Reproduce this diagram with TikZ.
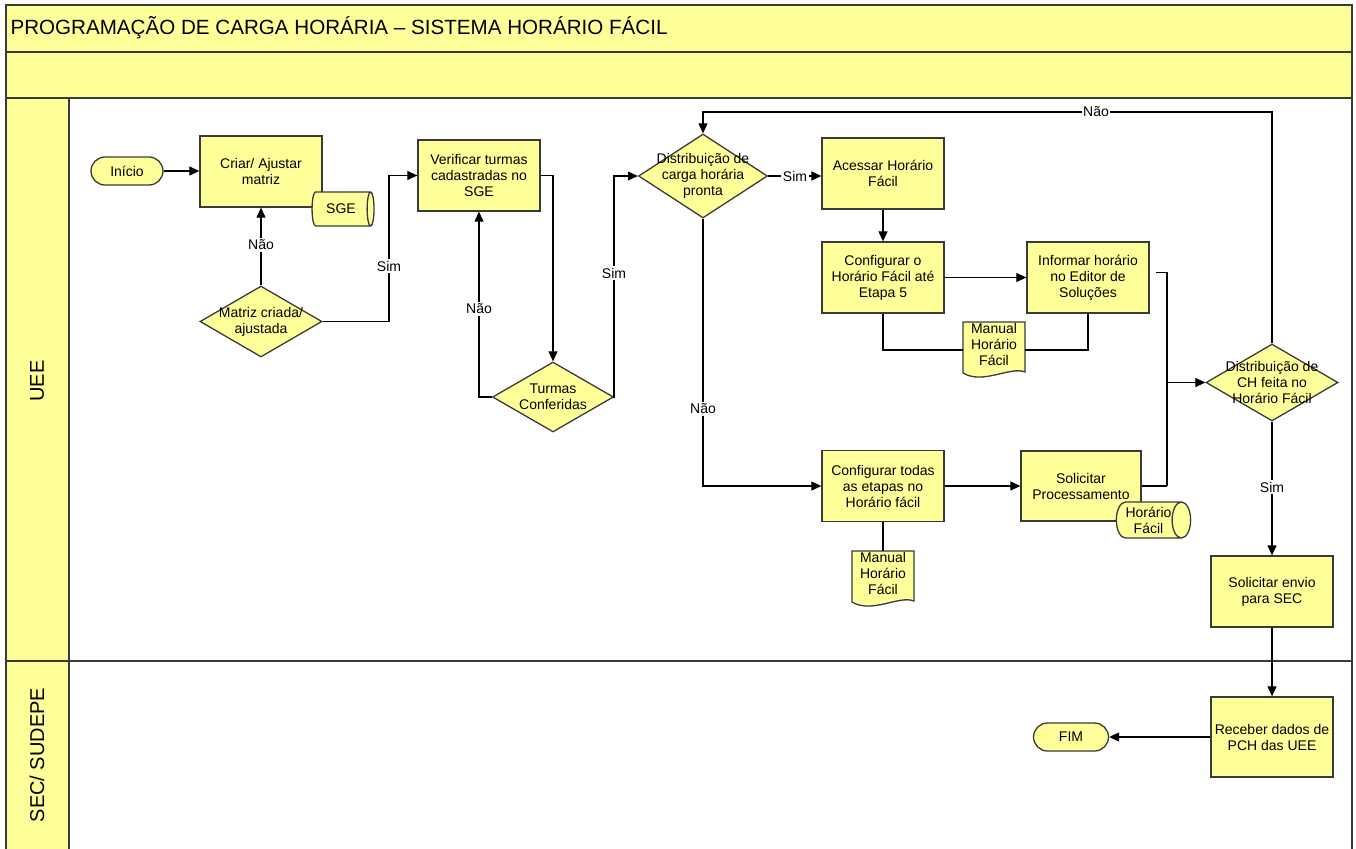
\documentclass[tikz,border=0pt]{standalone}
\usepackage{fontspec}
\setmainfont{Liberation Sans}
\usepackage{xcolor}
\usetikzlibrary{shapes.geometric,arrows.meta}

\definecolor{boxfill}{HTML}{FFFF99}
\definecolor{edgegray}{HTML}{3A3A3A}

\tikzset{
 body/.style={font=\fontsize{14}{16}\selectfont},
 proc/.style={body, draw=edgegray, line width=1.3pt, fill=boxfill, minimum width=122pt, minimum height=71pt, inner sep=2pt, align=center},
 dec/.style={diamond, draw=edgegray, line width=1.3pt, fill=boxfill, inner sep=0pt},
 term/.style={body, draw=edgegray, line width=1.3pt, fill=boxfill, rounded corners=14pt, minimum height=28pt},
 dbase/.style={body, cylinder, draw=edgegray, line width=1.3pt, fill=boxfill, aspect=0.7, inner sep=0pt, align=center},
 docshape/.style={draw=edgegray, line width=1.3pt, fill=boxfill},
 docu/.style={body, align=center, inner sep=0pt, minimum width=62pt, minimum height=44pt},
 txt/.style={body, align=center, inner sep=0pt},
 lbl/.style={body, fill=white, inner sep=1.5pt},
 con/.style={line width=1.1pt},
 arr/.style={con, -{Triangle[length=10pt,width=9pt]}},
 lane/.style={draw=edgegray, line width=1.5pt},
}

\begin{document}
\begin{tikzpicture}[x=1pt,y=-1pt]
\useasboundingbox (0,0) rectangle (1356,848);

% lanes
\filldraw[lane, fill=boxfill] (6,5) rectangle (1352,52);
\filldraw[lane, fill=boxfill] (6,52) rectangle (1352,98);
\filldraw[lane, fill=boxfill] (6,98) rectangle (69,661);
\draw[lane] (69,98) rectangle (1352,661);
\filldraw[lane, fill=boxfill] (6,661) -- (6,852) -- (69,852) -- (69,661) -- cycle;
\draw[lane] (69,661) -- (1352,661) -- (1352,852);

\node[anchor=west, font=\fontsize{20.6}{24}\selectfont] (titulo) at (7,28) {PROGRAMAÇÃO DE CARGA HORÁRIA – SISTEMA HORÁRIO FÁCIL};
\node[rotate=90, font=\fontsize{20}{24}\selectfont] (uee) at (37,381) {UEE};
\node[rotate=90, font=\fontsize{20}{24}\selectfont] (sec) at (37,755) {SEC/ SUDEPE};

% documentos
\filldraw[docshape] (963,322) -- (1025,322) -- (1025,372) .. controls (1010,366) and (983,385) .. (963,373) -- cycle;
\filldraw[docshape] (852,551) -- (914,551) -- (914,601) .. controls (899,595) and (872,614) .. (852,602) -- cycle;

% nodes
\node[term, minimum width=72pt] (inicio) at (127,171) {Início};
\node[proc] (criar) at (261,171.5) {Criar/ Ajustar\\matriz};
\node[dbase, minimum height=62pt, minimum width=34pt] (sge) at (341,209) {SGE};
\node[dec, minimum width=122pt, minimum height=71pt] (matriz) at (261,321.5) {};
\node[txt] (matriztxt) at (matriz) {Matriz criada/\\ajustada};

\node[proc] (verif) at (479,175.5) {Verificar turmas\\cadastradas no\\SGE};
\node[dec, minimum width=121pt, minimum height=70pt] (turmas) at (553,397) {};
\node[txt] (turmastxt) at (turmas) {Turmas\\Conferidas};

\node[dec, minimum width=129pt, minimum height=84pt] (dist) at (703,176) {};
\node[txt] (disttxt) at (dist) {Distribuição de\\carga horária\\pronta};

\node[proc] (acessar) at (883,173.5) {Acessar Horário\\Fácil};
\node[proc] (confo) at (883,277.5) {Configurar o\\Horário Fácil até\\Etapa 5};
\node[proc] (informar) at (1088,277.5) {Informar horário\\no Editor de\\Soluções};
\node[docu] (man1) at (994,344) {Manual\\Horário\\Fácil};

\node[proc] (conftodas) at (883,486) {Configurar todas\\as etapas no\\Horário fácil};
\node[docu] (man2) at (883,573) {Manual\\Horário\\Fácil};
\node[proc, minimum width=120pt, minimum height=70pt] (solproc) at (1081,486) {Solicitar\\Processamento};
\node[dbase, minimum height=69pt, minimum width=36pt] (hfacil) at (1148.5,520) {Horário\\Fácil};

\node[dec, minimum width=132pt, minimum height=77pt] (distch) at (1272,382.5) {};
\node[txt] (distchtxt) at (distch) {Distribuição de\\CH feita no\\Horário Fácil};
\node[proc] (solenv) at (1272,591.5) {Solicitar envio\\para SEC};
\node[proc, minimum height=80pt] (receber) at (1272,737) {Receber dados de\\PCH das UEE};
\node[term, minimum width=75pt] (fim) at (1071,737) {FIM};

% connectors
\coordinate (b1) at (389,321.5);
\coordinate (b2) at (614,397);
\coordinate (t1) at (1272,112);
\coordinate (j1) at (1167,382.5);
\coordinate (j2) at (1167,486);

\draw[arr] (inicio.east) -- (inicio.east -| criar.west);
\draw[arr] (matriz.north) -- (criar.south);
\draw[arr] (matriz.east) -- (b1) |- (verif.west);
\draw[arr] (verif.east) -| (turmas.north);
\draw[arr] (turmas.west) -| (verif.south);
\draw[arr] (turmas.east) -- (b2) |- (dist.west);
\draw[arr] (dist.east) -- (dist.east -| acessar.west);
\draw[arr] (dist.south) |- (conftodas.west);
\draw[arr] (acessar) -- (confo);
\draw[arr] (confo) -- (informar);
\draw[con] (confo.south) |- ([yshift=-6pt]man1.west);
\draw[con] ([yshift=-6pt]man1.east) -| (informar.south);
\draw[con] (conftodas.south) -- (man2.north);
\draw[arr] (conftodas) -- (solproc);
\draw[con] ([shift={(6,-5)}]informar.east) -| (j2);
\draw[con] (solproc.east) -- (j2);
\draw[arr] (j1) -- (distch.west);
\draw[arr] (distch.north) -- (t1) -| (dist.north);
\draw[arr] (distch.south) -- (solenv.north);
\draw[arr] (solenv) -- (receber);
\draw[arr] (receber) -- (fim);

% labels
\node[lbl] (n1) at (261,245) {Não};
\node[lbl] (s1) at (389,266) {Sim};
\node[lbl] (n2) at (479,309) {Não};
\node[lbl] (s2) at (614,273) {Sim};
\node[lbl] (s3) at (795,176) {Sim};
\node[lbl] (n3) at (703,409) {Não};
\node[lbl] (n4) at (1096,112) {Não};
\node[lbl] (s4) at (1272,487) {Sim};

\end{tikzpicture}
\end{document}
